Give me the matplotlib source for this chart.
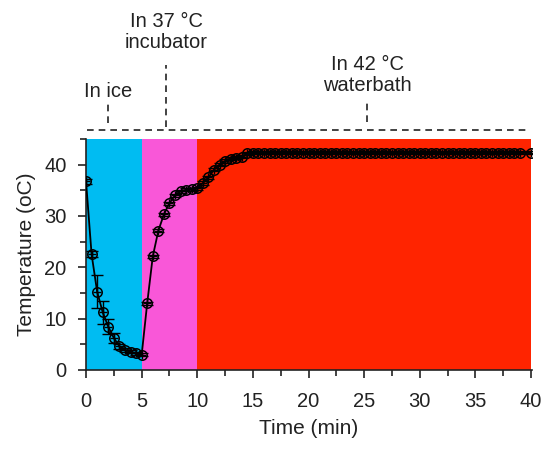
import numpy as np
import matplotlib
matplotlib.use("Agg")
import matplotlib.pyplot as plt

plt.rcParams['font.family'] = ['Liberation Sans', 'DejaVu Sans']

# 数据
time_min = [0, 0.5, 1.0, 1.5, 2.0, 2.5, 3.0, 3.5, 4.0, 4.5, 5.0,
            5.5, 6.0, 6.5, 7.0, 7.5, 8.0, 8.5, 9.0, 9.5, 10.0,
            10.5, 11.0, 11.5, 12.0, 12.5, 13.0, 13.5, 14.0, 14.5] + \
           [15 + 0.5 * i for i in range(48)] + [39, 40]
temp_c = [36.7, 22.5, 15.2, 11.2, 8.4, 6.2, 4.6, 3.9, 3.5, 3.2, 2.9,
          13.0, 22.1, 27.1, 30.3, 32.5, 34.0, 34.8, 35.1, 35.2, 35.4,
          36.4, 37.5, 39.0, 40.0, 40.7, 41.1, 41.3, 41.5, 42.2] + \
         [42.3] * 48 + [42.3, 42.3]
temp_err = [0.4, 0.6, 3.2, 2.2, 1.5, 1.0, 0.5, 0.4, 0.3, 0.3, 0.3] + [0.3] * (len(temp_c) - 11)

# 各阶段背景
phase_start = [0, 5, 10]
phase_end = [5, 10, 40]
phase_color = ['#00bcf2', '#f957d8', '#ff2400']

# 顶部标注
note_text = ['In ice', 'In 37 °C\nincubator', 'In 42 °C\nwaterbath']
note_x = [2.0, 7.2, 25.3]

fig = plt.figure(figsize=(5.48, 4.51), dpi=100)
ax = fig.add_axes([0.157, 0.180, 0.814, 0.512])

for s, e, c in zip(phase_start, phase_end, phase_color):
    ax.axvspan(s, e, color=c, lw=0, zorder=0)

ax.errorbar(time_min, temp_c, yerr=temp_err, fmt='-', color='black', lw=1.3,
            capsize=4, elinewidth=1.0, capthick=1.0, zorder=3)
ax.plot(time_min, temp_c, 'o', mfc='none', mec='black', ms=6.8, mew=1.1, zorder=4)
ax.plot(time_min, temp_c, '+', color='black', ms=6, mew=1.0, zorder=4)

ax.set_xlim(0, 40.1)
ax.set_ylim(0, 45)
ax.set_xticks(np.arange(0, 41, 5))
ax.set_xticks(np.arange(2.5, 41, 5), minor=True)
ax.set_yticks(np.arange(0, 41, 10))
ax.set_yticks(np.arange(5, 46, 10), minor=True)
ax.tick_params(axis='both', which='major', direction='out', length=6, width=1.2,
               labelsize=14.5, colors='#222222')
ax.tick_params(axis='x', which='major', pad=10)
ax.tick_params(axis='y', which='major', pad=8)
ax.tick_params(axis='both', which='minor', direction='out', length=4, width=1.2, colors='#222222')
ax.spines['top'].set_visible(False)
ax.spines['right'].set_visible(False)
for sp in ['left', 'bottom']:
    ax.spines[sp].set_linewidth(1.2)
    ax.spines[sp].set_color('#222222')
ax.set_xlabel('Time (min)', fontsize=15, color='#222222', labelpad=6)
ax.set_ylabel('Temperature (oC)', fontsize=15, color='#222222', labelpad=6)

# 顶部虚线和标注
ax.plot([0.1, 39.8], [46.8, 46.8], ls=(0, (4, 3)), color='#222222', lw=1.2, clip_on=False)
ax.plot([note_x[0]] * 2, [48.1, 52.2], ls=(0, (4, 3)), color='#222222', lw=1.2, clip_on=False)
ax.plot([note_x[1]] * 2, [47.4, 59.5], ls=(0, (4, 3)), color='#222222', lw=1.2, clip_on=False)
ax.plot([note_x[2]] * 2, [48.3, 52.2], ls=(0, (4, 3)), color='#222222', lw=1.2, clip_on=False)
ax.text(note_x[0], 54.3, note_text[0], ha='center', va='center', fontsize=14.5, color='#222222', clip_on=False)
ax.text(note_x[1], 65.8, note_text[1], ha='center', va='center', fontsize=14.5, color='#222222',
        linespacing=1.15, clip_on=False)
ax.text(note_x[2], 57.4, note_text[2], ha='center', va='center', fontsize=14.5, color='#222222',
        linespacing=1.15, clip_on=False)

fig.savefig('out.png', dpi=100)
